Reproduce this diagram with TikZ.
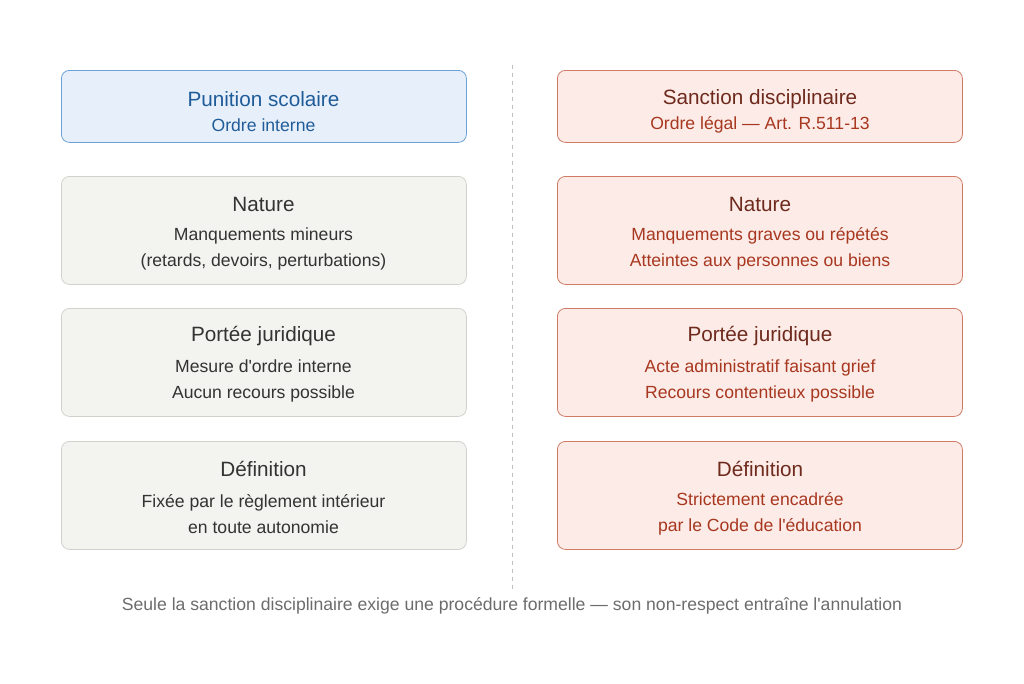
\documentclass[tikz,border=0pt]{standalone}
\usepackage{fontspec}
\setmainfont{Liberation Sans}
\newcommand\apo{\textquotesingle}
\definecolor{bfill}{HTML}{E7F0FA}\definecolor{bdraw}{HTML}{6AA2D6}\definecolor{btext}{HTML}{1F5C99}
\definecolor{rfill}{HTML}{FCEBE7}\definecolor{rdraw}{HTML}{CF7B66}\definecolor{rtitle}{HTML}{6E2A1C}\definecolor{rtext}{HTML}{A8371F}
\definecolor{gfill}{HTML}{F3F3EF}\definecolor{gdraw}{HTML}{D2D2CD}\definecolor{gtext}{HTML}{333333}
\begin{document}
\begin{tikzpicture}[x=1pt,y=-1pt,
 box/.style={rounded corners=8pt,line width=0.8pt,minimum width=405pt,anchor=north west,inner sep=0pt},
 gbox/.style={box,fill=gfill,draw=gdraw},
 rbox/.style={box,fill=rfill,draw=rdraw},
 bbox/.style={box,fill=bfill,draw=bdraw},
 ttl/.style={font=\fontsize{20.7}{24}\selectfont},
 bod/.style={align=center,font=\fontsize{17.6}{26}\selectfont}]
\useasboundingbox (0,0) rectangle (1024,683);
\draw[gray!50,line width=1pt,dash pattern=on 4pt off 4pt] (512,65) coordinate (d1) -- (512,590) coordinate (d2);
\node[bbox,minimum height=72pt] (L0) at (61,70) {};
\node[text=btext,ttl] (L0t) at (263.5,99) {Punition scolaire};
\node[text=btext,bod] (L0b) at (263.5,125) {Ordre interne};
\node[rbox,minimum height=72pt] (R0) at (557,70) {};
\node[text=rtitle,ttl] (R0t) at (760,99) {Sanction disciplinaire};
\node[text=rtext,bod] (R0b) at (760,125) {Ordre légal — Art. R.511-13};
\foreach \y/\t/\a/\b/\c/\d/\n in {176/Nature/Manquements mineurs/{(retards, devoirs, perturbations)}/Manquements graves ou répétés/Atteintes aux personnes ou biens/1,
 308/Portée juridique/Mesure d\apo ordre interne/Aucun recours possible/Acte administratif faisant grief/Recours contentieux possible/2,
 441/Définition/Fixée par le règlement intérieur/en toute autonomie/Strictement encadrée/par le Code de l\apo éducation/3}{
 \node[gbox,minimum height=108pt] (L\n) at (61,\y) {};
 \node[text=gtext,ttl] (L\n t) at (263.5,\y+28) {\t};
 \node[text=gtext,bod] (L\n b) at (263.5,\y+73) {\a\\\b};
 \node[rbox,minimum height=108pt] (R\n) at (557,\y) {};
 \node[text=rtitle,ttl] (R\n t) at (760,\y+28) {\t};
 \node[text=rtext,bod] (R\n b) at (760,\y+73) {\c\\\d};
}
\node[text=gray!85!black,font=\fontsize{17.6}{20}\selectfont] (foot) at (512,606) {Seule la sanction disciplinaire exige une procédure formelle — son non-respect entraîne l\apo annulation};
\end{tikzpicture}
\end{document}
